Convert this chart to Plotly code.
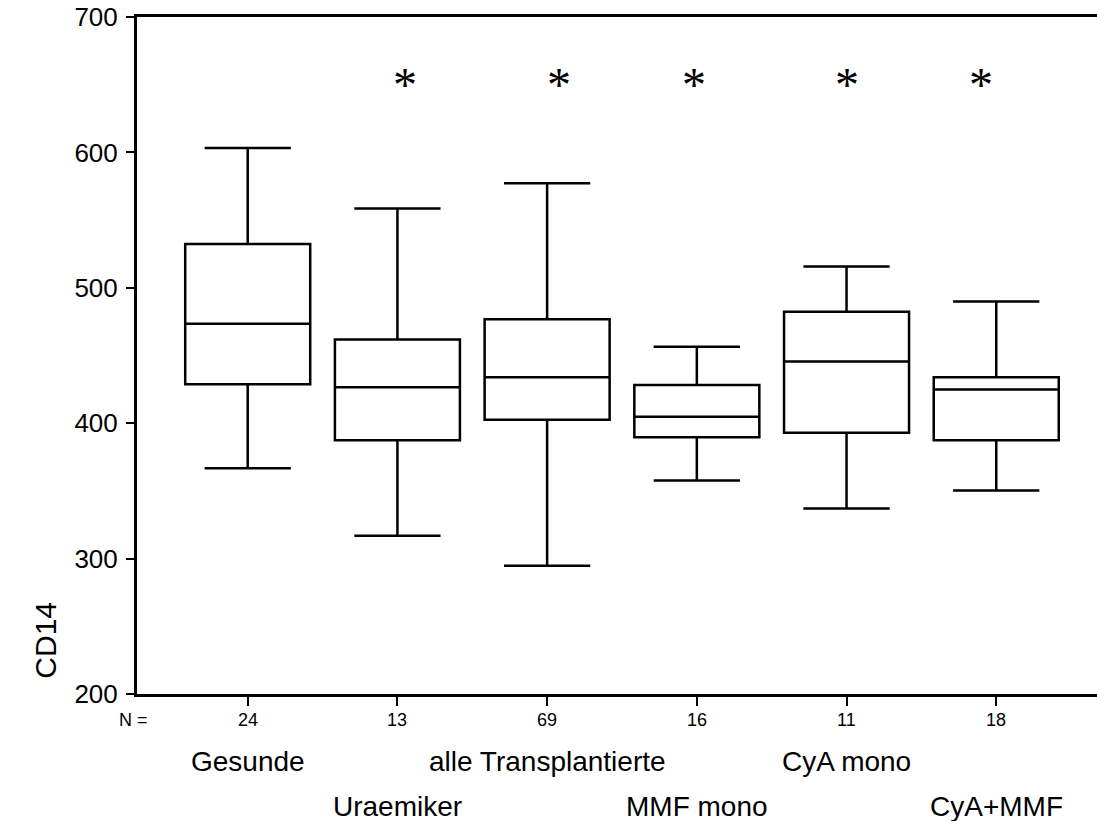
import plotly.graph_objects as go

# ---- data ----
groups = ["Gesunde", "Uraemiker", "alle Transplantierte", "MMF mono", "CyA mono", "CyA+MMF"]
n_values = ["24", "13", "69", "16", "11", "18"]
upper_whisker = [603.3, 558.5, 577.2, 456.4, 515.7, 489.8]
q3_values = [532.4, 461.8, 476.8, 428.3, 482.4, 434.0]
median_values = [473.4, 426.6, 434.0, 404.7, 445.5, 424.9]
q1_values = [428.8, 387.5, 402.5, 389.7, 392.9, 387.5]
lower_whisker = [366.8, 316.9, 294.7, 357.7, 337.0, 350.3]
significant = [False, True, True, True, True, True]
y_ticks = [200, 300, 400, 500, 600, 700]

positions = list(range(1, len(groups) + 1))
FONT = "Liberation Sans, Arial, sans-serif"

fig = go.Figure()
fig.add_trace(go.Box(
    x=positions,
    q1=q1_values,
    median=median_values,
    q3=q3_values,
    lowerfence=lower_whisker,
    upperfence=upper_whisker,
    boxpoints=False,
    width=0.835,
    whiskerwidth=0.69,
    fillcolor="white",
    line=dict(color="black", width=2.5),
    showlegend=False,
    hoverinfo="skip",
))

annotations = []
# significance stars
star_shift = [0, 8, 12, -3, 0, -15]
for i, (p, s) in enumerate(zip(positions, significant)):
    if s:
        annotations.append(dict(
            x=p, y=656, xref="x", yref="y", text="*", showarrow=False,
            xshift=star_shift[i], yshift=-8,
            font=dict(family="Liberation Serif, Times New Roman, serif", size=48, color="black"),
            xanchor="center", yanchor="middle",
        ))
# N row
annotations.append(dict(
    x=0.35, y=0, xref="x", yref="paper", text="N =", showarrow=False,
    yshift=-26, xanchor="right", yanchor="middle",
    font=dict(family=FONT, size=18, color="black"),
))
for p, n in zip(positions, n_values):
    annotations.append(dict(
        x=p, y=0, xref="x", yref="paper", text=n, showarrow=False,
        yshift=-26, xanchor="center", yanchor="middle",
        font=dict(family=FONT, size=18, color="black"),
    ))
# group labels, alternating rows
for i, (p, g) in enumerate(zip(positions, groups)):
    annotations.append(dict(
        x=p, y=0, xref="x", yref="paper", text=g, showarrow=False,
        yshift=-67 if i % 2 == 0 else -112, xanchor="center", yanchor="middle",
        font=dict(family=FONT, size=28, color="black"),
    ))
# y title
annotations.append(dict(
    x=-0.095, y=0.08, xref="paper", yref="paper", text="CD14", showarrow=False,
    textangle=-90, xanchor="center", yanchor="middle",
    font=dict(family=FONT, size=30, color="black"),
))

fig.update_layout(
    width=1097, height=821,
    margin=dict(l=137, r=0, t=17, b=127, pad=0),
    paper_bgcolor="white", plot_bgcolor="white",
    annotations=annotations,
    xaxis=dict(
        range=[0.2605, 6.673], tickvals=positions, ticktext=[""] * len(positions),
        showline=True, linecolor="black", linewidth=3, mirror=True,
        ticks="outside", ticklen=9, tickwidth=2, tickcolor="black",
        showgrid=False, zeroline=False,
    ),
    yaxis=dict(
        range=[200, 700], tickvals=y_ticks, ticktext=[str(v) for v in y_ticks],
        showline=True, linecolor="black", linewidth=3,
        ticks="outside", ticklen=8, tickwidth=2, tickcolor="black",
        ticklabelstandoff=3,
        showgrid=False, zeroline=False,
        tickfont=dict(family=FONT, size=26, color="black"),
    ),
)

fig.write_html("out.html")
